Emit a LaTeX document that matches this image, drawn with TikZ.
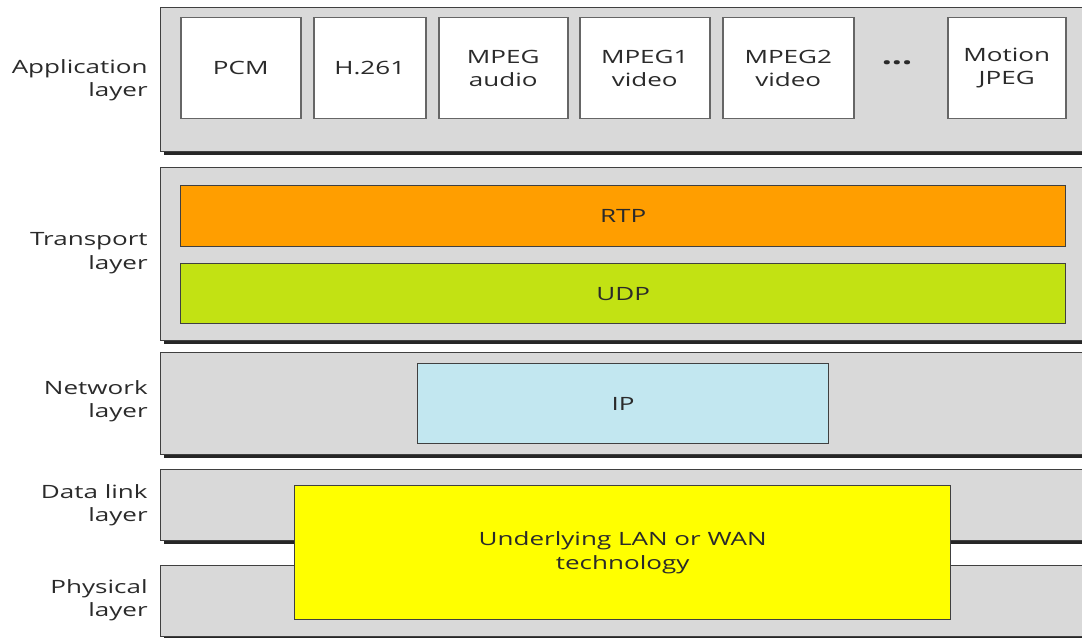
\documentclass[tikz,border=0pt]{standalone}
\usepackage{fontspec}
\setmainfont[FakeStretch=1.42]{Open Sans}
\usepackage{xcolor}
\usepackage{tikz}
\usetikzlibrary{shadows}
\definecolor{layergray}{HTML}{D9D9D9}
\definecolor{rtporange}{HTML}{FF9E00}
\definecolor{udpgreen}{HTML}{C2E213}
\definecolor{ipblue}{HTML}{C2E7F0}
\definecolor{lanyellow}{HTML}{FFFF00}
\definecolor{textgray}{HTML}{2A2A2A}

\begin{document}
\begin{tikzpicture}[x=0.6pt, y=-0.6pt,
    font=\fontsize{11}{14}\selectfont, text=textgray,
    sz/.style 2 args={minimum width=#1*0.6pt, minimum height=#2*0.6pt},
    layerbox/.style={draw=black!75, fill=layergray, line width=0.8pt,
      anchor=north west, inner sep=0pt,
      general shadow={fill=black!85, shadow xshift=1.8pt, shadow yshift=-1.8pt}},
    appbox/.style={draw=black!60, fill=white, line width=0.9pt,
      anchor=north west, inner sep=0pt, align=center},
    protobox/.style={draw=black!75, line width=0.8pt,
      anchor=north west, inner sep=0pt, align=center},
    lbl/.style={anchor=east, align=right, inner sep=0pt}]
  \useasboundingbox (0,0) rectangle (1082,638);

  \node[layerbox, sz={930}{144}] (applayer) at (160,7) {};
  \node[layerbox, sz={930}{173}] (translayer) at (160,167) {};
  \node[layerbox, sz={930}{102}] (netlayer) at (160,352) {};
  \node[layerbox, sz={930}{71}] (dllayer) at (160,469) {};
  \node[layerbox, sz={930}{71}] (phylayer) at (160,565) {};

  \node[lbl] (applbl) at (148,80) {Application\\layer};
  \node[lbl] (translbl) at (148,253) {Transport\\layer};
  \node[lbl] (netlbl) at (148,401) {Network\\layer};
  \node[lbl] (dllbl) at (148,505) {Data link\\layer};
  \node[lbl] (phylbl) at (148,600) {Physical\\layer};

  \node[appbox, sz={120}{101}] (pcm) at (180,17) {PCM};
  \node[appbox, sz={112}{101}] (h261) at (313,17) {H.261};
  \node[appbox, sz={129}{101}] (mpegaudio) at (438,17) {MPEG\\audio};
  \node[appbox, sz={130}{101}] (mpeg1) at (579,17) {MPEG1\\video};
  \node[appbox, sz={131}{101}] (mpeg2) at (722,17) {MPEG2\\video};
  \node[font=\fontsize{15}{15}\selectfont\bfseries] (dots) at (897,63) {...};
  \node[appbox, sz={118}{101}] (mjpeg) at (947,17) {Motion\\JPEG};

  \node[protobox, fill=rtporange, sz={885}{61}] (rtp) at (180,185) {RTP};
  \node[protobox, fill=udpgreen, sz={885}{60}] (udp) at (180,263) {UDP};
  \node[protobox, fill=ipblue, sz={411}{80}] (ip) at (417,363) {IP};
  \node[protobox, fill=lanyellow, sz={656}{134}] (lan) at (294,485)
    {Underlying LAN or WAN\\technology};
\end{tikzpicture}
\end{document}
